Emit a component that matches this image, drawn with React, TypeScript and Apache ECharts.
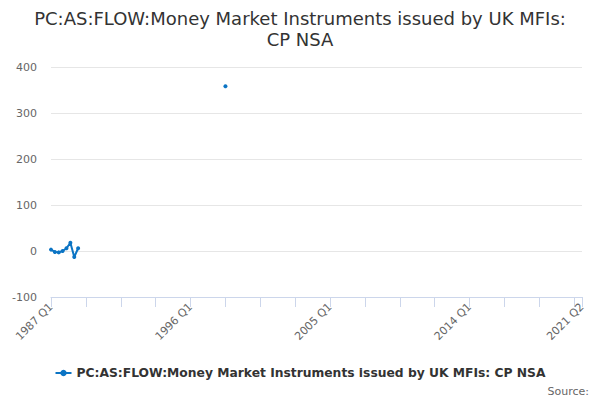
import React, { useEffect, useRef } from "react";
import * as echarts from "echarts";

const TITLE = "PC:AS:FLOW:Money Market Instruments issued by UK MFIs:\nCP NSA";
const SERIES_NAME = "PC:AS:FLOW:Money Market Instruments issued by UK MFIs: CP NSA";
const START_YEAR = 1987;
const END_YEAR = 2021;
const END_QUARTER = 2;
// observed values (index = quarter offset from 1987 Q1)
const earlyValues = [3, -2, -3, 0, 6, 18, -13, 6];
const isolatedIndex = 45; // 1998 Q2
const isolatedValue = 358;
const yTicks = [-100, 0, 100, 200, 300, 400];

function buildCategories(): string[] {
  const cats: string[] = [];
  for (let y = START_YEAR; y <= END_YEAR; y++) {
    for (let q = 1; q <= 4; q++) {
      if (y === END_YEAR && q > END_QUARTER) break;
      cats.push(`${y} Q${q}`);
    }
  }
  return cats;
}

export default function App() {
  const ref = useRef<HTMLDivElement>(null);
  useEffect(() => {
    if (!ref.current) return;
    const chart = echarts.init(ref.current, undefined, { renderer: "svg" });
    const categories = buildCategories();
    const last = categories.length - 1;
    const data: (number | null)[] = categories.map(() => null);
    earlyValues.forEach((v, i) => (data[i] = v));
    data[isolatedIndex] = isolatedValue;
    const font = "DejaVu Sans, sans-serif";
    chart.setOption({
      animation: false,
      title: {
        text: TITLE,
        left: "center",
        top: 3,
        textStyle: {
          fontFamily: font,
          fontSize: 18,
          fontWeight: "normal",
          color: "#333333",
          lineHeight: 21,
        },
      },
      grid: { left: 51, right: 18, top: 67, bottom: 103 },
      legend: {
        bottom: 16,
        left: "center",
        itemWidth: 16,
        itemHeight: 8,
        textStyle: { fontFamily: font, fontSize: 12.3, fontWeight: "bold", color: "#333333" },
        data: [SERIES_NAME],
      },
      graphic: [
        {
          type: "text",
          right: 11,
          bottom: 3,
          style: { text: "Source:", fontFamily: font, fontSize: 11, fill: "#666666" },
        },
      ],
      xAxis: {
        type: "category",
        data: categories,
        boundaryGap: false,
        axisLine: { onZero: false, lineStyle: { color: "#ccd6eb" } },
        axisTick: {
          length: 10,
          lineStyle: { color: "#ccd6eb" },
          interval: (i: number) => i % 9 === 0 || i === last,
        },
        axisLabel: {
          rotate: 45,
          fontFamily: font,
          fontSize: 11,
          color: "#666666",
          margin: 8,
          interval: (i: number) => i % 36 === 0 || i === last,
        },
        splitLine: { show: false },
      },
      yAxis: {
        type: "value",
        min: yTicks[0],
        max: yTicks[yTicks.length - 1],
        interval: 100,
        axisLine: { show: false },
        axisTick: { show: false },
        axisLabel: { fontFamily: font, fontSize: 11, color: "#666666", margin: 14 },
        splitLine: { lineStyle: { color: "#e6e6e6" } },
      },
      series: [
        {
          name: SERIES_NAME,
          type: "line",
          data,
          connectNulls: false,
          showSymbol: true,
          showAllSymbol: true,
          symbol: "circle",
          symbolSize: 4,
          lineStyle: { width: 2, color: "#0b74c4" },
          itemStyle: { color: "#0b74c4" },
        },
      ],
    });
    return () => chart.dispose();
  }, []);
  return <div ref={ref} style={{ width: 600, height: 400, position: "absolute", left: 0, top: 0 }} />;
}
